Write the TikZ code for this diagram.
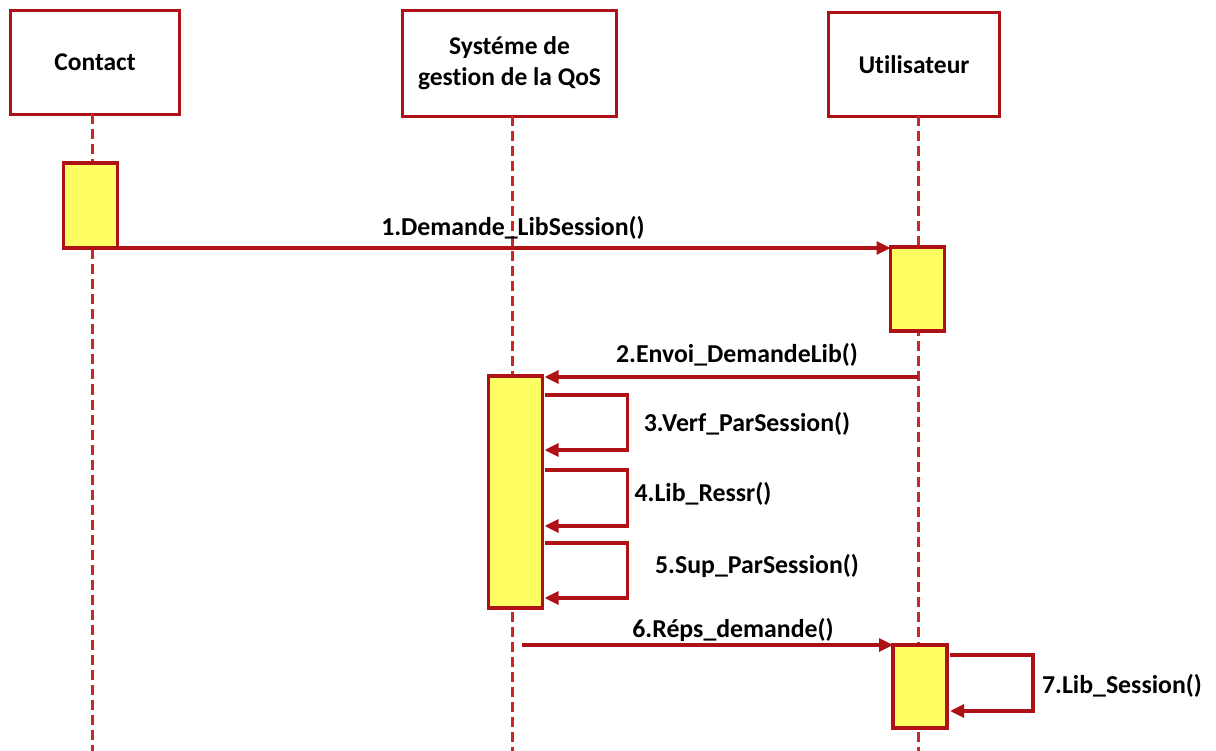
\documentclass[tikz,border=0pt]{standalone}
\usepackage{fontspec}
\setmainfont{Carlito}[Ligatures={NoCommon}]
\usetikzlibrary{arrows.meta,calc}
\definecolor{dred}{RGB}{175,18,22}
\definecolor{lred}{RGB}{200,40,40}
\definecolor{ayel}{RGB}{255,255,100}
\tikzset{
  objbox/.style={draw=dred,line width=3.4pt,fill=white,inner sep=0pt,outer sep=0pt,align=center,font=\bfseries\fontsize{25.5}{31}\selectfont},
  actbox/.style={draw=dred,line width=3.4pt,fill=ayel,inner sep=0pt,outer sep=0pt,minimum width=54pt},
  lifeline/.style={draw=lred,line width=3pt,dash pattern=on 10pt off 5pt},
  msg/.style={draw=dred,line width=3.2pt,-{Triangle[length=14pt,width=13pt]}},
  lbl/.style={font=\bfseries\fontsize{25.8}{28}\selectfont,text=black,inner sep=0pt}
}
\begin{document}
\begin{tikzpicture}[x=1pt,y=-1pt]
\useasboundingbox (0,0) rectangle (1216,751);
% lifeline heads
\node[objbox,minimum width=169pt,minimum height=104pt] (c) at (95,62.5) {Contact};
\node[objbox,minimum width=214pt,minimum height=106pt] (s) at (509.5,63.5) {Systéme de\\gestion de la QoS};
\node[objbox,minimum width=171pt,minimum height=104pt] (u) at (914,64.5) {Utilisateur};
% lifelines
\coordinate (cend) at (92,751);
\coordinate (send) at (512,751);
\coordinate (uend) at (918,751);
\draw[lifeline] (c.south -| cend) -- (cend);
\draw[lifeline] (s.south -| send) -- (send);
\draw[lifeline] (u.south -| uend) -- (uend);
% activations
\node[actbox,minimum height=85pt] (a1) at (90.5,205.5) {};
\node[actbox,minimum height=84pt] (u1) at (917.5,289) {};
\node[actbox,minimum height=232pt] (s1) at (515.5,492) {};
\node[actbox,minimum height=83pt] (u2) at (920,686.5) {};
% messages
\draw[msg] (a1.south east) -- (a1.south east -| u1.west);
\node[lbl] (l1) at (513,228) {1.Demande\_LibSession()};
\coordinate (m2s) at (918,377);
\draw[msg] (m2s) -- ($(s1.north east)+(2,1)$);
\node[lbl] (l2) at (737,355) {2.Envoi\_DemandeLib()};
\draw[msg] ($(s1.north east)+(2,19)$) -- ++(83,0) -- ++(0,55) -- ++(-83,0);
\node[lbl] (l3) at (747,424) {3.Verf\_ParSession()};
\draw[msg] ($(s1.north east)+(2,94)$) -- ++(83,0) -- ++(0,56) -- ++(-83,0);
\node[lbl] (l4) at (703,494) {4.Lib\_Ressr()};
\draw[msg] ($(s1.north east)+(2,167)$) -- ++(83,0) -- ++(0,55) -- ++(-83,0);
\node[lbl] (l5) at (757,566) {5.Sup\_ParSession()};
\coordinate (m6s) at (522,645);
\draw[msg] (m6s) -- (m6s -| u2.west);
\node[lbl] (l6) at (733,630) {6.Réps\_demande()};
\draw[msg] ($(u2.north east)+(3,10)$) -- ++(83,0) -- ++(0,56) -- ++(-83,0);
\node[lbl] (l7) at (1122,686) {7.Lib\_Session()};
\end{tikzpicture}
\end{document}
